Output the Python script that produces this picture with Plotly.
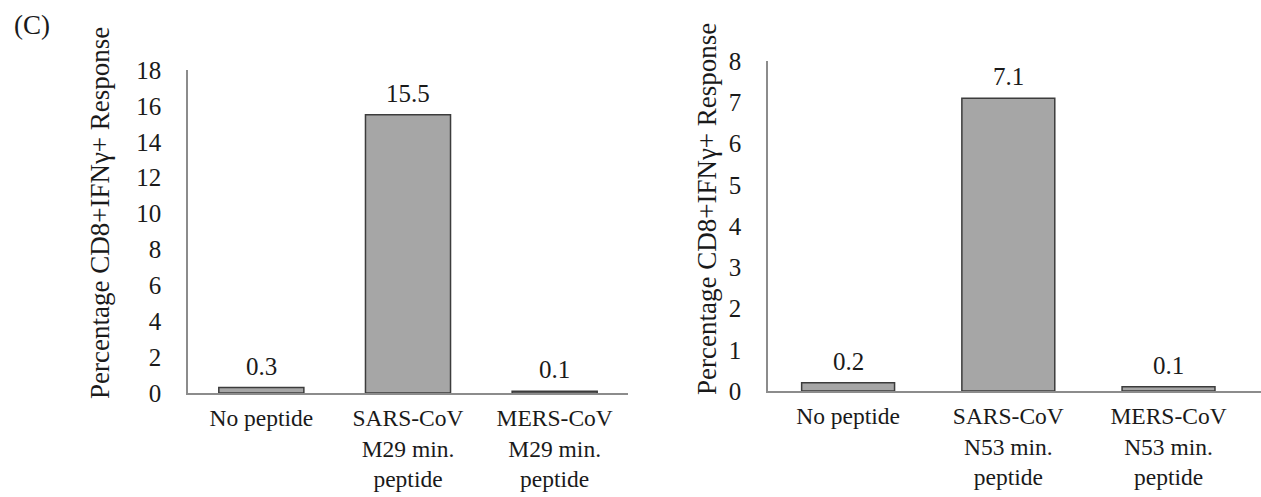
import plotly.graph_objects as go

categories_left = ["No peptide", "SARS-CoV<br>M29 min.<br>peptide", "MERS-CoV<br>M29 min.<br>peptide"]
values_left = [0.3, 15.5, 0.1]
categories_right = ["No peptide", "SARS-CoV<br>N53 min.<br>peptide", "MERS-CoV<br>N53 min.<br>peptide"]
values_right = [0.2, 7.1, 0.1]
y_title = "Percentage CD8+IFNγ+ Response"
panel_label = "(C)"

W, H = 1261, 497
FONT = "'Times New Roman', 'Liberation Serif', serif"
FS = 25
FSX = 23.5
TXT = "#1a1a1a"
AXC = "#8c8c8c"
BAR = "#a6a6a6"
EDGE = "#3c3c3c"

def px_x(p):
    return p / W

def px_y(p):
    return (H - p) / H

fig = go.Figure()
fig.add_trace(go.Bar(x=categories_left, y=values_left, xaxis="x", yaxis="y",
                     marker=dict(color=BAR, line=dict(color=EDGE, width=1.5)),
                     showlegend=False, hoverinfo="skip"))
fig.add_trace(go.Bar(x=categories_right, y=values_right, xaxis="x2", yaxis="y2",
                     marker=dict(color=BAR, line=dict(color=EDGE, width=1.5)),
                     showlegend=False, hoverinfo="skip"))

axis_common = dict(showline=True, linecolor=AXC, linewidth=1.5, showgrid=False, automargin=False,
                   zeroline=False, ticks="")
xfont = dict(tickfont=dict(family=FONT, size=FSX, color=TXT))
yfont = dict(tickfont=dict(family=FONT, size=FS, color=TXT))

fig.update_layout(
    width=W, height=H,
    margin=dict(l=0, r=0, t=0, b=0, autoexpand=False),
    paper_bgcolor="white", plot_bgcolor="white",
    font=dict(family=FONT, size=FS, color=TXT),
    bargap=0.42,
    xaxis=dict(domain=[px_x(188), px_x(628)], anchor="y", range=[-0.5, 2.5],
               ticklabelstandoff=3, **axis_common, **xfont),
    yaxis=dict(domain=[px_y(393), px_y(70)], anchor="x", range=[0, 18], dtick=2,
               ticklabelstandoff=20, **axis_common, **yfont),
    xaxis2=dict(domain=[px_x(768), 1.0], anchor="y2", range=[-0.5, 2.5 + 13 / 168.5],
                ticklabelstandoff=3, **axis_common, **xfont),
    yaxis2=dict(domain=[px_y(391), px_y(61)], anchor="x2", range=[0, 8], dtick=1,
                ticklabelstandoff=20, **axis_common, **yfont),
)

annotations = []
for c, v in zip(categories_left, values_left):
    annotations.append(dict(x=c, y=v, xref="x", yref="y", text=f"{v:.1f}", showarrow=False,
                            yanchor="bottom", yshift=6, font=dict(family=FONT, size=FS, color=TXT)))
for c, v in zip(categories_right, values_right):
    annotations.append(dict(x=c, y=v, xref="x2", yref="y2", text=f"{v:.1f}", showarrow=False,
                            yanchor="bottom", yshift=6, font=dict(family=FONT, size=FS, color=TXT)))
annotations.append(dict(x=px_x(100), y=px_y(213), xref="paper", yref="paper", text=y_title,
                        textangle=-90, showarrow=False, xanchor="center", yanchor="middle",
                        font=dict(family=FONT, size=27, color=TXT)))
annotations.append(dict(x=px_x(707), y=px_y(209), xref="paper", yref="paper", text=y_title,
                        textangle=-90, showarrow=False, xanchor="center", yanchor="middle",
                        font=dict(family=FONT, size=27, color=TXT)))
annotations.append(dict(x=px_x(12), y=px_y(25), xref="paper", yref="paper", text=panel_label,
                        showarrow=False, xanchor="left", yanchor="middle",
                        font=dict(family=FONT, size=27, color=TXT)))
fig.update_layout(annotations=annotations)

fig.write_html("out.html")
